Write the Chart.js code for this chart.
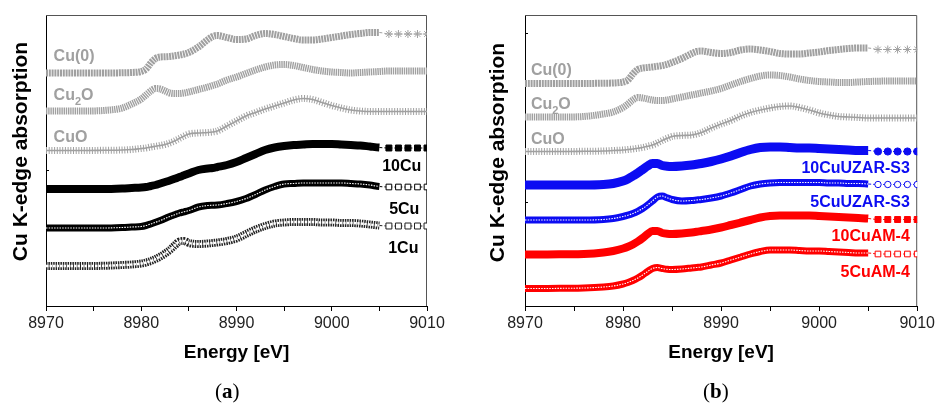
<!DOCTYPE html>
<html><head><meta charset="utf-8">
<script src="https://cdn.jsdelivr.net/npm/chart.js@4/dist/chart.umd.min.js"></script>
<style>
html,body{margin:0;padding:0;background:#fff;width:938px;height:406px;overflow:hidden;}
#wa{position:absolute;left:0;top:0;width:470px;height:406px;}
#wb{position:absolute;left:470px;top:0;width:468px;height:406px;}
.cap{position:absolute;top:379px;font-family:"Liberation Serif",serif;font-size:21px;line-height:24px;color:#000;}
</style></head><body>
<div id="wa"><canvas id="ca" width="470" height="406"></canvas></div>
<div id="wb"><canvas id="cb" width="468" height="406"></canvas></div>
<div class="cap" style="left:215px">(<b>a</b>)</div>
<div class="cap" style="left:703px">(<b>b</b>)</div>
<script>
// ---------- DATA ----------
const ENERGY = [8970, 8972, 8974, 8976, 8978, 8979, 8980, 8980.5, 8981, 8981.5, 8982, 8982.5, 8983, 8983.5, 8984, 8984.5, 8985, 8986, 8987, 8987.5, 8988, 8989, 8990, 8991, 8992, 8993, 8994, 8995, 8996, 8997, 8998, 8999, 9000, 9001, 9002, 9003, 9004, 9005, 9006, 9007, 9008, 9009, 9010];
const X_LABELED = [8970, 8980, 8990, 9000, 9010];
const X_MINOR = [8975, 8985, 8995, 9005];
const TAIL_START = 9005;

// panel (a)
const cu0_a  = [2.33,2.33,2.33,2.33,2.332,2.335,2.345,2.37,2.43,2.475,2.49,2.492,2.495,2.502,2.51,2.52,2.535,2.59,2.665,2.695,2.705,2.685,2.665,2.67,2.705,2.725,2.715,2.695,2.675,2.66,2.66,2.67,2.685,2.70,2.715,2.725,2.735,2.735,2.72,2.72,2.72,2.72,2.72];
const cu2o_a = [1.95,1.95,1.95,1.955,1.98,2.02,2.07,2.11,2.15,2.175,2.17,2.15,2.13,2.125,2.125,2.13,2.14,2.165,2.19,2.205,2.22,2.26,2.29,2.325,2.36,2.39,2.41,2.415,2.405,2.385,2.365,2.35,2.34,2.335,2.33,2.335,2.34,2.345,2.35,2.35,2.35,2.35,2.35];
const cuo_a  = [1.555,1.555,1.555,1.557,1.56,1.565,1.575,1.58,1.59,1.597,1.605,1.615,1.63,1.65,1.675,1.70,1.72,1.73,1.735,1.74,1.75,1.80,1.85,1.90,1.935,1.97,2.00,2.03,2.06,2.075,2.065,2.035,2.005,1.98,1.96,1.95,1.945,1.945,1.945,1.945,1.945,1.945,1.945];
const cu10_a = [1.17,1.17,1.17,1.17,1.175,1.18,1.185,1.19,1.20,1.21,1.225,1.24,1.255,1.272,1.29,1.307,1.325,1.36,1.375,1.38,1.39,1.41,1.44,1.48,1.52,1.56,1.585,1.60,1.61,1.615,1.62,1.62,1.62,1.615,1.61,1.605,1.595,1.585,1.58,1.58,1.58,1.58,1.58];
const cu5_a  = [0.78,0.78,0.78,0.78,0.785,0.79,0.795,0.805,0.82,0.837,0.855,0.875,0.895,0.912,0.93,0.942,0.955,0.99,1.005,1.008,1.01,1.025,1.045,1.075,1.115,1.16,1.195,1.22,1.225,1.23,1.23,1.23,1.23,1.23,1.225,1.22,1.21,1.195,1.19,1.19,1.19,1.19,1.19];
const cu1_a  = [0.40,0.40,0.40,0.402,0.41,0.415,0.425,0.435,0.45,0.47,0.495,0.525,0.56,0.605,0.645,0.65,0.63,0.62,0.625,0.63,0.635,0.65,0.675,0.72,0.765,0.80,0.825,0.835,0.84,0.84,0.84,0.835,0.835,0.83,0.83,0.825,0.815,0.805,0.80,0.80,0.80,0.80,0.80];

// panel (b)
const cu0_b    = [2.225,2.225,2.225,2.225,2.228,2.23,2.24,2.26,2.32,2.365,2.38,2.385,2.39,2.397,2.405,2.417,2.435,2.475,2.525,2.545,2.55,2.535,2.525,2.535,2.56,2.57,2.56,2.545,2.525,2.52,2.52,2.53,2.54,2.555,2.565,2.575,2.58,2.58,2.565,2.565,2.565,2.565,2.565];
const cu2o_b   = [1.89,1.89,1.89,1.895,1.92,1.94,1.985,2.02,2.06,2.085,2.08,2.07,2.06,2.055,2.055,2.06,2.07,2.09,2.11,2.12,2.13,2.15,2.175,2.21,2.245,2.275,2.30,2.31,2.305,2.29,2.27,2.255,2.245,2.24,2.235,2.235,2.24,2.245,2.248,2.25,2.25,2.25,2.25];
const cuo_b    = [1.545,1.545,1.545,1.547,1.55,1.555,1.56,1.565,1.57,1.577,1.585,1.597,1.61,1.63,1.655,1.677,1.695,1.705,1.71,1.72,1.735,1.78,1.82,1.855,1.90,1.935,1.96,1.98,1.995,2.00,1.985,1.96,1.93,1.91,1.895,1.89,1.885,1.88,1.88,1.88,1.88,1.88,1.88];
const uzar10_b = [1.21,1.21,1.21,1.21,1.215,1.225,1.25,1.27,1.30,1.33,1.365,1.40,1.425,1.425,1.405,1.397,1.395,1.40,1.41,1.417,1.425,1.445,1.47,1.50,1.535,1.565,1.585,1.59,1.59,1.585,1.58,1.58,1.575,1.57,1.565,1.56,1.555,1.555,1.545,1.545,1.545,1.545,1.545];
const uzar5_b  = [0.86,0.86,0.86,0.86,0.865,0.875,0.895,0.908,0.925,0.947,0.975,1.01,1.05,1.09,1.10,1.082,1.065,1.05,1.055,1.06,1.065,1.08,1.10,1.13,1.165,1.20,1.22,1.23,1.235,1.235,1.235,1.235,1.235,1.23,1.23,1.225,1.225,1.22,1.215,1.215,1.215,1.215,1.215];
const am10_b   = [0.515,0.515,0.517,0.52,0.535,0.55,0.575,0.592,0.615,0.645,0.68,0.72,0.75,0.75,0.73,0.722,0.72,0.725,0.735,0.742,0.75,0.765,0.785,0.81,0.835,0.86,0.885,0.90,0.905,0.905,0.905,0.905,0.90,0.895,0.89,0.885,0.88,0.875,0.865,0.865,0.865,0.865,0.865];
const am5_b    = [0.175,0.175,0.177,0.18,0.19,0.20,0.22,0.235,0.255,0.28,0.31,0.345,0.375,0.385,0.375,0.367,0.365,0.37,0.38,0.385,0.39,0.41,0.43,0.46,0.49,0.52,0.545,0.56,0.56,0.56,0.555,0.55,0.55,0.545,0.54,0.535,0.53,0.53,0.52,0.52,0.52,0.52,0.52];

const Y_TICKS_A = [1.36];
const Y_TICKS_B = [1.03, 2.73];

// ---------- STYLES ----------
const GRAY = '#a0a0a0', BLACK = '#000000', BLUE = '#0c0cf2', RED = '#ff0000';
const FONT = '"Liberation Sans", Arial, sans-serif';

function band(values, o) {
  const tail = !!o.tail;
  return {
    order: 2,
    data: values.map((v, i) => ({x: ENERGY[i], y: v})),
    borderColor: o.color,
    borderWidth: o.width,
    borderDash: o.dash || [],
    borderCapStyle: 'butt',
    borderJoinStyle: 'round',
    cubicInterpolationMode: 'monotone',
    fill: false,
    clip: {left: 0, right: 0, top: false, bottom: false},
    pointRadius: c => (tail && ENERGY[c.dataIndex] > TAIL_START) ? o.r : 0,
    pointHoverRadius: 0,
    pointStyle: o.pstyle || 'circle',
    pointBackgroundColor: o.open ? '#ffffff' : o.color,
    pointBorderColor: o.color,
    pointBorderWidth: 1,
    segment: {
      borderWidth: c => (tail && c.p0.parsed.x >= TAIL_START) ? 1 : undefined,
      borderDash: c => (tail && c.p0.parsed.x >= TAIL_START) ? [3, 2] : undefined
    }
  };
}
function core(values, o) {
  return {
    order: 1,
    data: values.map((v, i) => ({x: ENERGY[i], y: v})),
    borderColor: o.color,
    borderWidth: o.width,
    borderDash: o.dash || [],
    cubicInterpolationMode: 'monotone',
    fill: false,
    clip: {left: 0, right: 0, top: false, bottom: false},
    pointRadius: 0, pointHoverRadius: 0,
    segment: {
      borderColor: c => (o.tail && c.p0.parsed.x >= TAIL_START) ? 'rgba(0,0,0,0)' : undefined
    }
  };
}

// ---------- PLUGINS ----------
const framePlugin = {
  id: 'frame',
  beforeDatasetsDraw(chart) {
    const {ctx, chartArea: a} = chart;
    ctx.save();
    ctx.strokeStyle = '#555';
    ctx.lineWidth = 1;
    ctx.beginPath();
    ctx.moveTo(a.left, a.top + 0.5);
    ctx.lineTo(a.right - 0.5, a.top + 0.5);
    ctx.lineTo(a.right - 0.5, a.bottom);
    ctx.stroke();
    ctx.restore();
  }
};
const yTitlePlugin = {
  id: 'ytitle',
  afterDraw(chart, args, o) {
    const {ctx} = chart;
    ctx.save();
    ctx.translate(o.x, o.y);
    ctx.rotate(-Math.PI / 2);
    ctx.font = 'bold 21px ' + FONT;
    ctx.fillStyle = '#000';
    ctx.textAlign = 'center';
    ctx.textBaseline = 'middle';
    ctx.fillText(o.text, 0, 0);
    ctx.restore();
  }
};
const labelPlugin = {
  id: 'curveLabels',
  afterDatasetsDraw(chart, args, o) {
    const {ctx, scales: {x, y}} = chart;
    ctx.save();
    for (const L of o.items) {
      const px = x.getPixelForValue(L.x), py = y.getPixelForValue(L.y);
      const base = py + 5.7;
      let w = 0;
      const parts = L.parts.map(p => {
        ctx.font = p.sub ? 'bold 11px ' + FONT : 'bold 16px ' + FONT;
        const pw = ctx.measureText(p.t).width;
        w += pw;
        return {t: p.t, sub: p.sub, w: pw};
      });
      let cx = L.align === 'right' ? px - w : px;
      ctx.fillStyle = L.color;
      ctx.textAlign = 'left';
      ctx.textBaseline = 'alphabetic';
      for (const p of parts) {
        ctx.font = p.sub ? 'bold 11px ' + FONT : 'bold 16px ' + FONT;
        ctx.fillText(p.t, cx, p.sub ? base + 5 : base);
        cx += p.w;
      }
    }
    ctx.restore();
  }
};

function makeChart(id, W, H, area, datasets, yTicks, labels, ytitle) {
  return new Chart(document.getElementById(id), {
    type: 'line',
    data: {datasets},
    plugins: [framePlugin, labelPlugin, yTitlePlugin],
    options: {
      responsive: false, animation: false, events: [],
      layout: {padding: {left: 0, top: area.top, right: W - area.right, bottom: 0}},
      plugins: {
        legend: {display: false}, tooltip: {enabled: false},
        curveLabels: {items: labels},
        ytitle: ytitle
      },
      scales: {
        x: {
          type: 'linear', min: 8970, max: 9010,
          afterBuildTicks: s => { s.ticks = X_LABELED.concat(X_MINOR).sort((a, b) => a - b).map(v => ({value: v})); },
          afterFit: s => { s.height = H - area.bottom; },
          ticks: {
            autoSkip: false, maxRotation: 0, padding: 3, color: '#222',
            font: {family: FONT, size: 16},
            callback: v => X_LABELED.includes(v) ? String(v) : ''
          },
          grid: {drawOnChartArea: false, drawTicks: true, tickLength: 5, color: '#000', tickColor: '#000'},
          border: {display: true, color: '#000', width: 1},
          title: {display: true, text: 'Energy [eV]', color: '#000',
                  font: {family: FONT, size: 19, weight: 'bold'}, padding: {top: 0, bottom: 41.6}}
        },
        y: {
          type: 'linear', min: 0, max: 2.91,
          afterBuildTicks: s => { s.ticks = yTicks.map(v => ({value: v})); },
          afterFit: s => { s.width = area.left; },
          ticks: {display: false},
          grid: {drawOnChartArea: false, drawTicks: true, tickLength: -3, color: '#000', tickColor: '#000'},
          border: {display: true, color: '#000', width: 1}
        }
      }
    }
  });
}

// ---------- PANEL A ----------
makeChart('ca', 470, 406, {left: 46, right: 427, top: 15, bottom: 306}, [
  band(cu0_a,  {color: GRAY, width: 7, dash: [2, 0.8], tail: true, pstyle: 'star', r: 4, open: true}),
  band(cu2o_a, {color: GRAY, width: 7, dash: [1.4, 0.8]}),
  band(cuo_a,  {color: GRAY, width: 7, dash: [1, 1.7]}),
  core(cuo_a,  {color: GRAY, width: 1.6}),
  band(cu10_a, {color: BLACK, width: 8, tail: true, pstyle: 'rect', r: 4.2}),
  band(cu5_a,  {color: BLACK, width: 7, tail: true, pstyle: 'rect', r: 4, open: true}),
  core(cu5_a,  {color: '#ffffff', width: 1.1, dash: [1.5, 1.2], tail: true}),
  band(cu1_a,  {color: '#222', width: 8, dash: [1.5, 0.9], tail: true, pstyle: 'rect', r: 4.2, open: true}),
  core(cu1_a,  {color: '#ffffff', width: 2.4, dash: [2.5, 1], tail: true})
], Y_TICKS_A, [
  {parts: [{t: 'Cu(0)'}], x: 8970.8, y: 2.51, align: 'left', color: GRAY},
  {parts: [{t: 'Cu'}, {t: '2', sub: true}, {t: 'O'}], x: 8970.8, y: 2.12, align: 'left', color: GRAY},
  {parts: [{t: 'CuO'}], x: 8970.8, y: 1.70, align: 'left', color: GRAY},
  {parts: [{t: '10Cu'}], x: 9009.4, y: 1.41, align: 'right', color: BLACK},
  {parts: [{t: '5Cu'}], x: 9009.2, y: 0.98, align: 'right', color: BLACK},
  {parts: [{t: '1Cu'}], x: 9009.1, y: 0.59, align: 'right', color: BLACK}
], {x: 21, y: 151.5, text: 'Cu K-edge absorption'});

// ---------- PANEL B ----------
makeChart('cb', 468, 406, {left: 55, right: 449, top: 15, bottom: 306}, [
  band(cu0_b,    {color: GRAY, width: 7, dash: [2, 0.8], tail: true, pstyle: 'star', r: 4, open: true}),
  band(cu2o_b,   {color: GRAY, width: 7, dash: [1.4, 0.8]}),
  band(cuo_b,    {color: GRAY, width: 7, dash: [1, 1.7]}),
  core(cuo_b,    {color: GRAY, width: 1.6}),
  band(uzar10_b, {color: BLUE, width: 9, tail: true, pstyle: 'circle', r: 3.6}),
  band(uzar5_b,  {color: BLUE, width: 7, tail: true, pstyle: 'circle', r: 3.2, open: true}),
  core(uzar5_b,  {color: '#ffffff', width: 1.1, dash: [1.5, 1.2], tail: true}),
  band(am10_b,   {color: RED, width: 8, tail: true, pstyle: 'rect', r: 4.2}),
  band(am5_b,    {color: RED, width: 7, tail: true, pstyle: 'rect', r: 4, open: true}),
  core(am5_b,    {color: '#ffffff', width: 1.1, dash: [1.5, 1.2], tail: true})
], Y_TICKS_B, [
  {parts: [{t: 'Cu(0)'}], x: 8970.6, y: 2.37, align: 'left', color: GRAY},
  {parts: [{t: 'Cu'}, {t: '2', sub: true}, {t: 'O'}], x: 8970.6, y: 2.03, align: 'left', color: GRAY},
  {parts: [{t: 'CuO'}], x: 8970.6, y: 1.68, align: 'left', color: GRAY},
  {parts: [{t: '10CuUZAR-S3'}], x: 9009.25, y: 1.385, align: 'right', color: BLUE},
  {parts: [{t: '5CuUZAR-S3'}], x: 9009.25, y: 1.05, align: 'right', color: BLUE},
  {parts: [{t: '10CuAM-4'}], x: 9009.25, y: 0.71, align: 'right', color: RED},
  {parts: [{t: '5CuAM-4'}], x: 9009.25, y: 0.35, align: 'right', color: RED}
], {x: 27.8, y: 152.5, text: 'Cu K-edge absorption'});
</script>
</body></html>
